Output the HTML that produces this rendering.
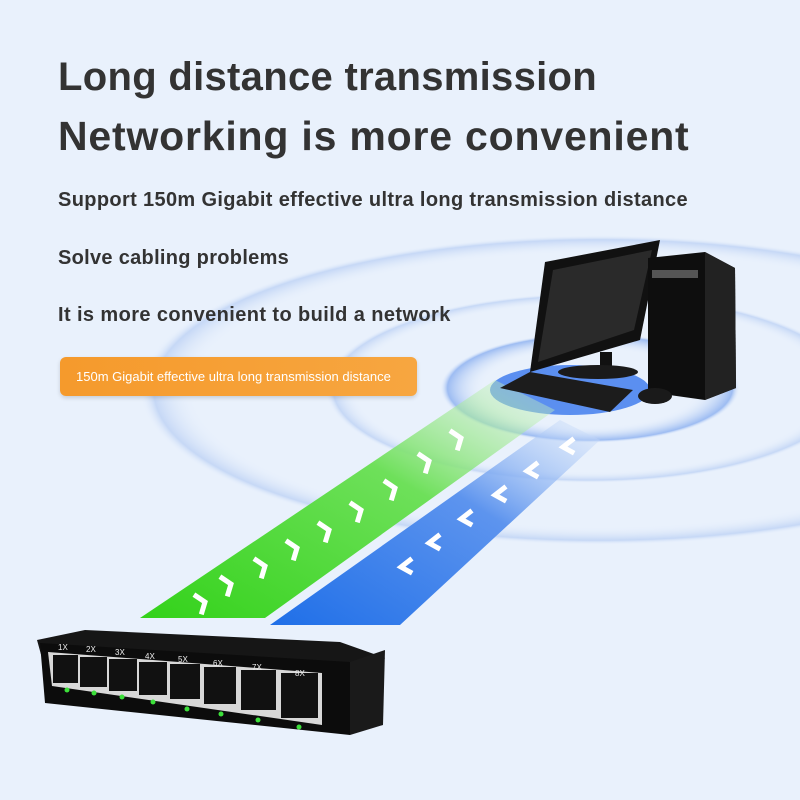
<!DOCTYPE html>
<html><head><meta charset="utf-8"><style>
html,body{margin:0;padding:0}
body{width:800px;height:800px;overflow:hidden;background:#e9f1fc;font-family:"Liberation Sans",sans-serif;position:relative}
svg{position:absolute;left:0;top:0}
.t{position:absolute;left:58px;color:#333;font-weight:bold;white-space:nowrap}
</style></head><body>
<svg width="800" height="800" viewBox="0 0 800 800">
<defs>
<radialGradient id="rg" cx="50%" cy="50%" r="50%"><stop offset="0.88" stop-color="#e9f1fc" stop-opacity="0"/><stop offset="0.97" stop-color="#c6d8f6"/><stop offset="1" stop-color="#e9f1fc" stop-opacity="0"/></radialGradient>
<radialGradient id="rg2" cx="50%" cy="50%" r="50%"><stop offset="0.7" stop-color="#e9f1fc" stop-opacity="0"/><stop offset="0.95" stop-color="#9dbcf2"/><stop offset="1" stop-color="#e9f1fc" stop-opacity="0"/></radialGradient>
<linearGradient id="gg" x1="0" y1="1" x2="1" y2="0"><stop offset="0" stop-color="#33d21a"/><stop offset="0.6" stop-color="#6ee05a"/><stop offset="1" stop-color="#d6f3d0" stop-opacity="0.3"/></linearGradient>
<linearGradient id="bg" x1="0" y1="1" x2="1" y2="0"><stop offset="0" stop-color="#1f6fe8"/><stop offset="0.6" stop-color="#5d94ee"/><stop offset="1" stop-color="#d4e3fa" stop-opacity="0.3"/></linearGradient>
</defs>
<ellipse cx="600" cy="390" rx="460" ry="155" fill="url(#rg)"/>
<ellipse cx="590" cy="388" rx="265" ry="95" fill="url(#rg)"/>
<ellipse cx="590" cy="388" rx="150" ry="55" fill="url(#rg2)"/>
<ellipse cx="570" cy="390" rx="80" ry="25" fill="#5b8ff0"/>
<polygon points="495,380 555,410 265,618 140,618" fill="url(#gg)"/>
<polygon points="560,420 600,440 400,625 270,625" fill="url(#bg)"/>
<g fill="none" stroke="#fff" stroke-width="5" stroke-linecap="square">
<path d="M452,432 l9,6 l-3,10"/><path d="M420,455 l9,6 l-3,10"/><path d="M386,482 l9,6 l-3,10"/><path d="M352,504 l9,6 l-3,10"/><path d="M320,524 l9,6 l-3,10"/><path d="M288,542 l9,6 l-3,10"/><path d="M256,560 l9,6 l-3,10"/><path d="M222,578 l9,6 l-3,10"/><path d="M196,596 l9,6 l-3,10"/>
<path d="M572,440 l-9,7 l9,5"/><path d="M536,464 l-9,7 l9,5"/><path d="M504,488 l-9,7 l9,5"/><path d="M470,512 l-9,7 l9,5"/><path d="M438,536 l-9,7 l9,5"/><path d="M410,560 l-9,7 l9,5"/>
</g>
<!-- computer -->
<polygon points="545,262 660,240 640,340 530,372" fill="#111"/>
<polygon points="553,270 652,250 634,330 538,362" fill="#2a2a2a"/>
<rect x="600" y="352" width="12" height="20" fill="#111"/>
<ellipse cx="598" cy="372" rx="40" ry="7" fill="#1a1a1a"/>
<polygon points="648,258 705,252 735,268 736,388 705,400 648,392" fill="#0e0e0e"/>
<polygon points="705,252 735,268 736,388 705,400" fill="#222"/>
<rect x="652" y="270" width="46" height="8" fill="#555"/>
<polygon points="500,388 530,372 633,390 610,412" fill="#1c1c1c"/>
<ellipse cx="655" cy="396" rx="17" ry="8" fill="#1a1a1a"/>
<!-- switch -->
<polygon points="37,640 85,630 340,642 385,658 350,700 48,680" fill="#161616"/>
<polygon points="40,643 350,662 350,735 45,703" fill="#0c0c0c"/>
<polygon points="350,662 385,650 383,725 350,735" fill="#1a1a1a"/>
<polygon points="48,652 322,673 322,725 52,686" fill="#d8d8d8"/>
<g fill="#111">
<rect x="53" y="655" width="25" height="28"/><rect x="80" y="657" width="27" height="30"/><rect x="109" y="659" width="28" height="32"/><rect x="139" y="662" width="28" height="33"/><rect x="170" y="664" width="30" height="35"/><rect x="204" y="667" width="32" height="37"/><rect x="241" y="670" width="35" height="40"/><rect x="281" y="673" width="37" height="45"/>
</g>
<g fill="#3ce03a">
<circle cx="67" cy="690" r="2.5"/><circle cx="94" cy="693" r="2.5"/><circle cx="122" cy="697" r="2.5"/><circle cx="153" cy="702" r="2.5"/><circle cx="187" cy="709" r="2.5"/><circle cx="221" cy="714" r="2.5"/><circle cx="258" cy="720" r="2.5"/><circle cx="299" cy="727" r="2.5"/>
</g>
<g fill="#eee" font-size="8" font-family="Liberation Sans">
<text x="58" y="650">1X</text><text x="86" y="652">2X</text><text x="115" y="655">3X</text><text x="145" y="659">4X</text><text x="178" y="662">5X</text><text x="213" y="666">6X</text><text x="252" y="670">7X</text><text x="295" y="676">8X</text>
</g>
</svg>
<div class="t" style="top:55px;font-size:40px;letter-spacing:0.3px">Long distance transmission</div>
<div class="t" style="top:113px;font-size:41px;letter-spacing:0.8px">Networking is more convenient</div>
<div class="t" style="top:189px;font-size:20px;letter-spacing:0.35px">Support 150m Gigabit effective ultra long transmission distance</div>
<div class="t" style="top:247px;font-size:20px;letter-spacing:0.3px">Solve cabling problems</div>
<div class="t" style="top:304px;font-size:20px;letter-spacing:0.4px">It is more convenient to build a network</div>
<div style="position:absolute;left:60px;top:357px;width:357px;height:39px;border-radius:6px;background:linear-gradient(90deg,#f59a2c,#f7a640);color:#fff;font-size:13px;line-height:39px;padding-left:16px;box-sizing:border-box;box-shadow:0 2px 4px rgba(0,0,0,.15)">150m Gigabit effective ultra long transmission distance</div>
</body></html>
